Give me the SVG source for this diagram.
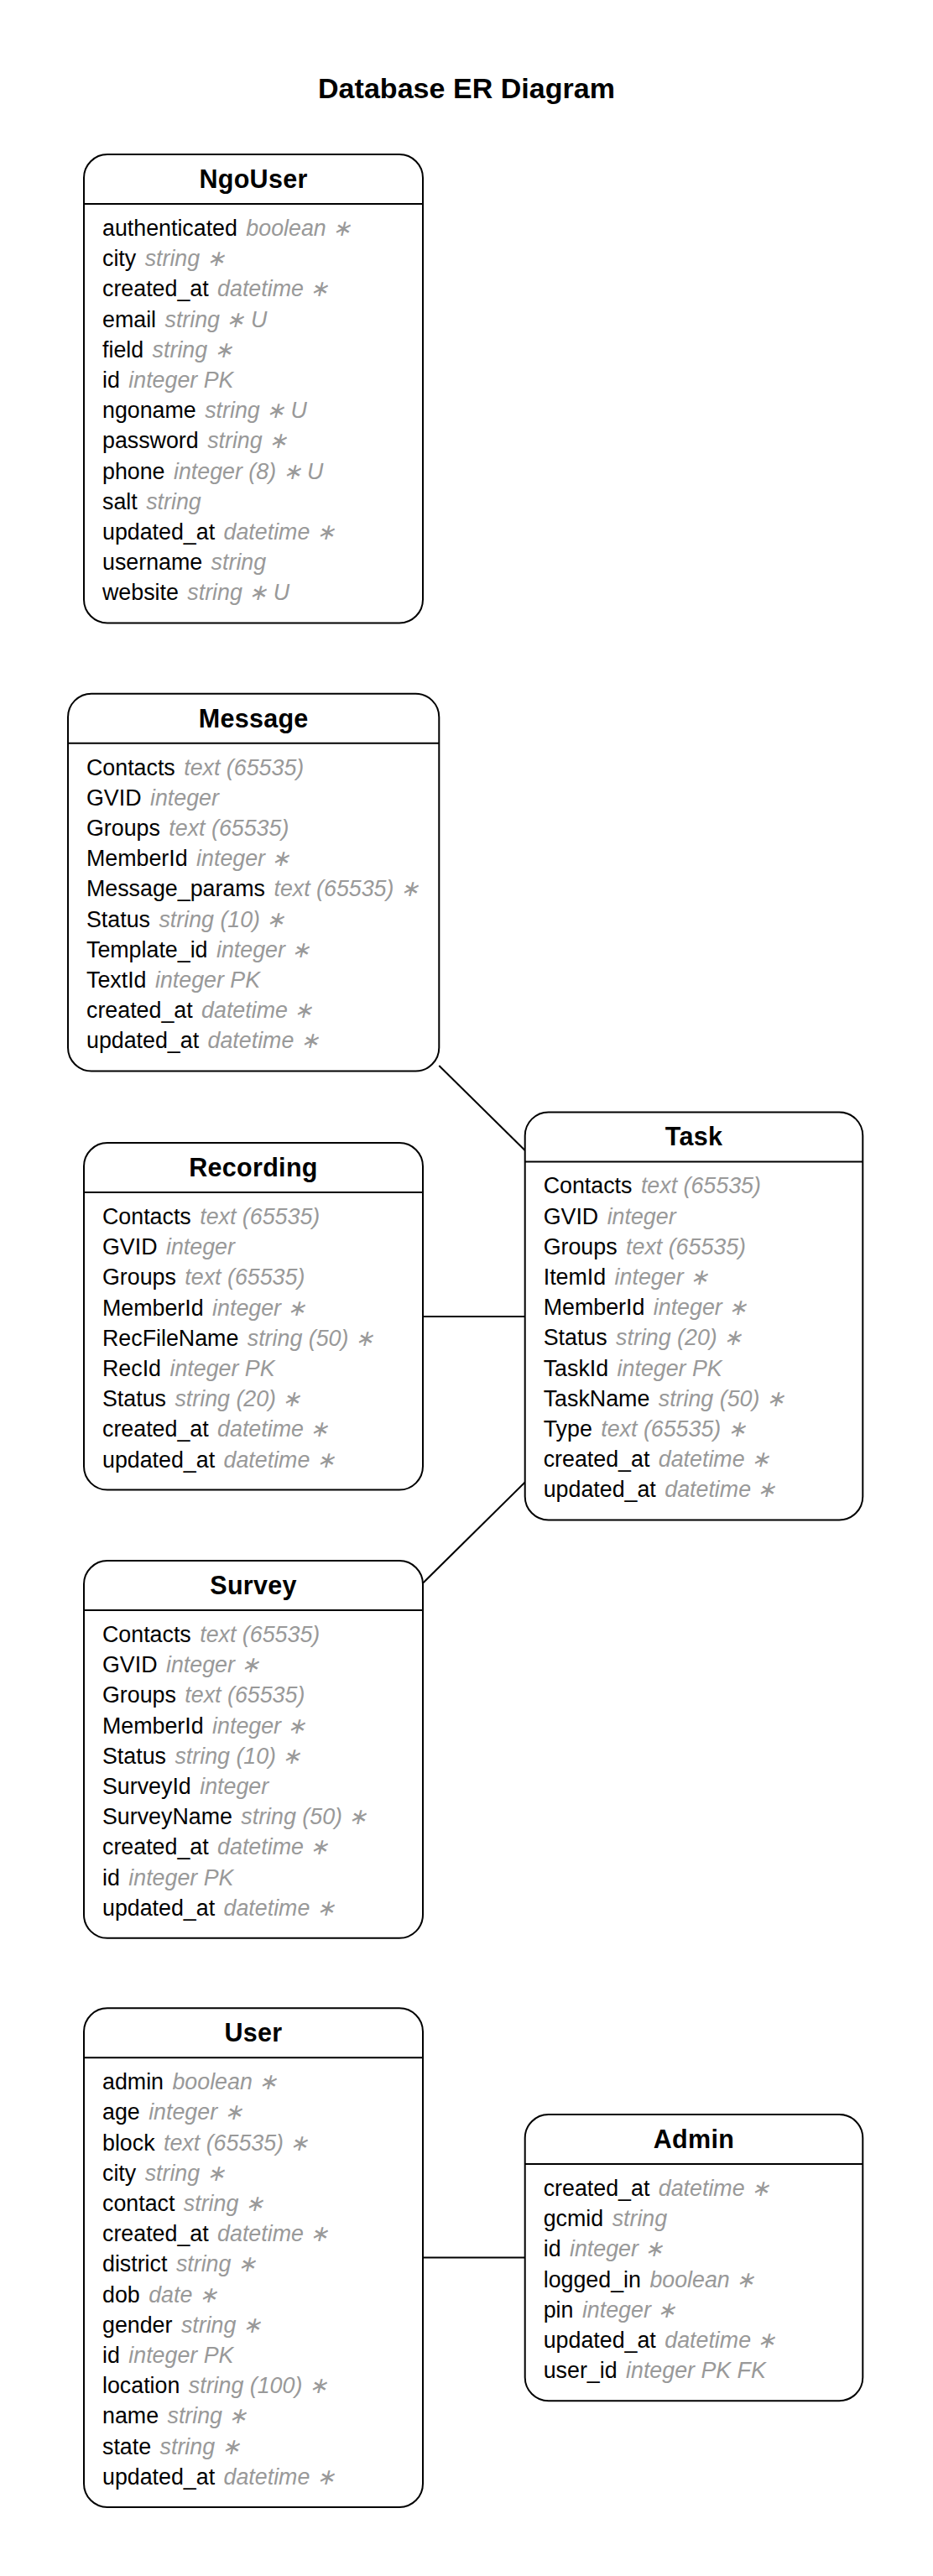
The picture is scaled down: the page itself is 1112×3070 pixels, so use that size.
<svg xmlns="http://www.w3.org/2000/svg" width="1112" height="3070" viewBox="0 0 1112 3070">
<style>
.bg{fill:#ffffff}
.box{fill:#ffffff;stroke:#000000;stroke-width:2}
.hdr{stroke:#000000;stroke-width:2}
.main{font-family:"Liberation Sans",Arial,sans-serif;font-weight:bold;font-size:34px;text-anchor:middle;fill:#000000}
.ttl{font-family:"Liberation Sans",Arial,sans-serif;font-weight:bold;font-size:30.5px;text-anchor:middle;letter-spacing:0.3px;fill:#000000}
.row{font-family:"Liberation Sans",Arial,sans-serif;font-size:26.8px;fill:#000000}
.ty{font-style:italic;fill:#999999}
.edge{stroke:#000000;stroke-width:2;fill:none}
</style>
<rect class="bg" x="0" y="0" width="1112" height="3070"/>
<text class="main" x="556" y="117" textLength="354" lengthAdjust="spacing">Database ER Diagram</text>

<g id="connectors">
<line class="edge" x1="523.3" y1="1270" x2="625.7" y2="1371"/>
<line class="edge" x1="504" y1="1569" x2="625.7" y2="1569"/>
<line class="edge" x1="504" y1="1886.7" x2="625.7" y2="1766.5"/>
<line class="edge" x1="504" y1="2690.5" x2="625.7" y2="2690.5"/>
</g>

<g id="NgoUser" transform="translate(100,184)">
<rect class="box" x="0" y="0" width="404" height="558.4" rx="28" ry="28"/>
<line class="hdr" x1="0" y1="59" x2="404" y2="59"/>
<text class="ttl" x="202" y="40">NgoUser</text>
<text class="row" x="22" y="97">authenticated <tspan class="ty" dx="3">boolean ∗</tspan></text>
<text class="row" x="22" y="133.2">city <tspan class="ty" dx="3">string ∗</tspan></text>
<text class="row" x="22" y="169.4">created_at <tspan class="ty" dx="3">datetime ∗</tspan></text>
<text class="row" x="22" y="205.6">email <tspan class="ty" dx="3">string ∗ U</tspan></text>
<text class="row" x="22" y="241.8">field <tspan class="ty" dx="3">string ∗</tspan></text>
<text class="row" x="22" y="278">id <tspan class="ty" dx="3">integer PK</tspan></text>
<text class="row" x="22" y="314.2">ngoname <tspan class="ty" dx="3">string ∗ U</tspan></text>
<text class="row" x="22" y="350.4">password <tspan class="ty" dx="3">string ∗</tspan></text>
<text class="row" x="22" y="386.6">phone <tspan class="ty" dx="3">integer (8) ∗ U</tspan></text>
<text class="row" x="22" y="422.8">salt <tspan class="ty" dx="3">string</tspan></text>
<text class="row" x="22" y="459">updated_at <tspan class="ty" dx="3">datetime ∗</tspan></text>
<text class="row" x="22" y="495.2">username <tspan class="ty" dx="3">string</tspan></text>
<text class="row" x="22" y="531.4">website <tspan class="ty" dx="3">string ∗ U</tspan></text>
</g>

<g id="Message" transform="translate(81,826.7)">
<rect class="box" x="0" y="0" width="442.3" height="449.8" rx="28" ry="28"/>
<line class="hdr" x1="0" y1="59" x2="442.3" y2="59"/>
<text class="ttl" x="221.15" y="40">Message</text>
<text class="row" x="22" y="97">Contacts <tspan class="ty" dx="3">text (65535)</tspan></text>
<text class="row" x="22" y="133.2">GVID <tspan class="ty" dx="3">integer</tspan></text>
<text class="row" x="22" y="169.4">Groups <tspan class="ty" dx="3">text (65535)</tspan></text>
<text class="row" x="22" y="205.6">MemberId <tspan class="ty" dx="3">integer ∗</tspan></text>
<text class="row" x="22" y="241.8">Message_params <tspan class="ty" dx="3">text (65535) ∗</tspan></text>
<text class="row" x="22" y="278">Status <tspan class="ty" dx="3">string (10) ∗</tspan></text>
<text class="row" x="22" y="314.2">Template_id <tspan class="ty" dx="3">integer ∗</tspan></text>
<text class="row" x="22" y="350.4">TextId <tspan class="ty" dx="3">integer PK</tspan></text>
<text class="row" x="22" y="386.6">created_at <tspan class="ty" dx="3">datetime ∗</tspan></text>
<text class="row" x="22" y="422.8">updated_at <tspan class="ty" dx="3">datetime ∗</tspan></text>
</g>

<g id="Task" transform="translate(625.7,1325.4)">
<rect class="box" x="0" y="0" width="402.6" height="486" rx="28" ry="28"/>
<line class="hdr" x1="0" y1="59" x2="402.6" y2="59"/>
<text class="ttl" x="201.3" y="40">Task</text>
<text class="row" x="22" y="97">Contacts <tspan class="ty" dx="3">text (65535)</tspan></text>
<text class="row" x="22" y="133.2">GVID <tspan class="ty" dx="3">integer</tspan></text>
<text class="row" x="22" y="169.4">Groups <tspan class="ty" dx="3">text (65535)</tspan></text>
<text class="row" x="22" y="205.6">ItemId <tspan class="ty" dx="3">integer ∗</tspan></text>
<text class="row" x="22" y="241.8">MemberId <tspan class="ty" dx="3">integer ∗</tspan></text>
<text class="row" x="22" y="278">Status <tspan class="ty" dx="3">string (20) ∗</tspan></text>
<text class="row" x="22" y="314.2">TaskId <tspan class="ty" dx="3">integer PK</tspan></text>
<text class="row" x="22" y="350.4">TaskName <tspan class="ty" dx="3">string (50) ∗</tspan></text>
<text class="row" x="22" y="386.6">Type <tspan class="ty" dx="3">text (65535) ∗</tspan></text>
<text class="row" x="22" y="422.8">created_at <tspan class="ty" dx="3">datetime ∗</tspan></text>
<text class="row" x="22" y="459">updated_at <tspan class="ty" dx="3">datetime ∗</tspan></text>
</g>

<g id="Recording" transform="translate(100,1362)">
<rect class="box" x="0" y="0" width="404" height="413.6" rx="28" ry="28"/>
<line class="hdr" x1="0" y1="59" x2="404" y2="59"/>
<text class="ttl" x="202" y="40">Recording</text>
<text class="row" x="22" y="97">Contacts <tspan class="ty" dx="3">text (65535)</tspan></text>
<text class="row" x="22" y="133.2">GVID <tspan class="ty" dx="3">integer</tspan></text>
<text class="row" x="22" y="169.4">Groups <tspan class="ty" dx="3">text (65535)</tspan></text>
<text class="row" x="22" y="205.6">MemberId <tspan class="ty" dx="3">integer ∗</tspan></text>
<text class="row" x="22" y="241.8">RecFileName <tspan class="ty" dx="3">string (50) ∗</tspan></text>
<text class="row" x="22" y="278">RecId <tspan class="ty" dx="3">integer PK</tspan></text>
<text class="row" x="22" y="314.2">Status <tspan class="ty" dx="3">string (20) ∗</tspan></text>
<text class="row" x="22" y="350.4">created_at <tspan class="ty" dx="3">datetime ∗</tspan></text>
<text class="row" x="22" y="386.6">updated_at <tspan class="ty" dx="3">datetime ∗</tspan></text>
</g>

<g id="Survey" transform="translate(100,1860)">
<rect class="box" x="0" y="0" width="404" height="449.8" rx="28" ry="28"/>
<line class="hdr" x1="0" y1="59" x2="404" y2="59"/>
<text class="ttl" x="202" y="40">Survey</text>
<text class="row" x="22" y="97">Contacts <tspan class="ty" dx="3">text (65535)</tspan></text>
<text class="row" x="22" y="133.2">GVID <tspan class="ty" dx="3">integer ∗</tspan></text>
<text class="row" x="22" y="169.4">Groups <tspan class="ty" dx="3">text (65535)</tspan></text>
<text class="row" x="22" y="205.6">MemberId <tspan class="ty" dx="3">integer ∗</tspan></text>
<text class="row" x="22" y="241.8">Status <tspan class="ty" dx="3">string (10) ∗</tspan></text>
<text class="row" x="22" y="278">SurveyId <tspan class="ty" dx="3">integer</tspan></text>
<text class="row" x="22" y="314.2">SurveyName <tspan class="ty" dx="3">string (50) ∗</tspan></text>
<text class="row" x="22" y="350.4">created_at <tspan class="ty" dx="3">datetime ∗</tspan></text>
<text class="row" x="22" y="386.6">id <tspan class="ty" dx="3">integer PK</tspan></text>
<text class="row" x="22" y="422.8">updated_at <tspan class="ty" dx="3">datetime ∗</tspan></text>
</g>

<g id="User" transform="translate(100,2393.3)">
<rect class="box" x="0" y="0" width="404" height="594.6" rx="28" ry="28"/>
<line class="hdr" x1="0" y1="59" x2="404" y2="59"/>
<text class="ttl" x="202" y="40">User</text>
<text class="row" x="22" y="97">admin <tspan class="ty" dx="3">boolean ∗</tspan></text>
<text class="row" x="22" y="133.2">age <tspan class="ty" dx="3">integer ∗</tspan></text>
<text class="row" x="22" y="169.4">block <tspan class="ty" dx="3">text (65535) ∗</tspan></text>
<text class="row" x="22" y="205.6">city <tspan class="ty" dx="3">string ∗</tspan></text>
<text class="row" x="22" y="241.8">contact <tspan class="ty" dx="3">string ∗</tspan></text>
<text class="row" x="22" y="278">created_at <tspan class="ty" dx="3">datetime ∗</tspan></text>
<text class="row" x="22" y="314.2">district <tspan class="ty" dx="3">string ∗</tspan></text>
<text class="row" x="22" y="350.4">dob <tspan class="ty" dx="3">date ∗</tspan></text>
<text class="row" x="22" y="386.6">gender <tspan class="ty" dx="3">string ∗</tspan></text>
<text class="row" x="22" y="422.8">id <tspan class="ty" dx="3">integer PK</tspan></text>
<text class="row" x="22" y="459">location <tspan class="ty" dx="3">string (100) ∗</tspan></text>
<text class="row" x="22" y="495.2">name <tspan class="ty" dx="3">string ∗</tspan></text>
<text class="row" x="22" y="531.4">state <tspan class="ty" dx="3">string ∗</tspan></text>
<text class="row" x="22" y="567.6">updated_at <tspan class="ty" dx="3">datetime ∗</tspan></text>
</g>

<g id="Admin" transform="translate(625.7,2520)">
<rect class="box" x="0" y="0" width="402.6" height="341.2" rx="28" ry="28"/>
<line class="hdr" x1="0" y1="59" x2="402.6" y2="59"/>
<text class="ttl" x="201.3" y="40">Admin</text>
<text class="row" x="22" y="97">created_at <tspan class="ty" dx="3">datetime ∗</tspan></text>
<text class="row" x="22" y="133.2">gcmid <tspan class="ty" dx="3">string</tspan></text>
<text class="row" x="22" y="169.4">id <tspan class="ty" dx="3">integer ∗</tspan></text>
<text class="row" x="22" y="205.6">logged_in <tspan class="ty" dx="3">boolean ∗</tspan></text>
<text class="row" x="22" y="241.8">pin <tspan class="ty" dx="3">integer ∗</tspan></text>
<text class="row" x="22" y="278">updated_at <tspan class="ty" dx="3">datetime ∗</tspan></text>
<text class="row" x="22" y="314.2">user_id <tspan class="ty" dx="3">integer PK FK</tspan></text>
</g>
</svg>
